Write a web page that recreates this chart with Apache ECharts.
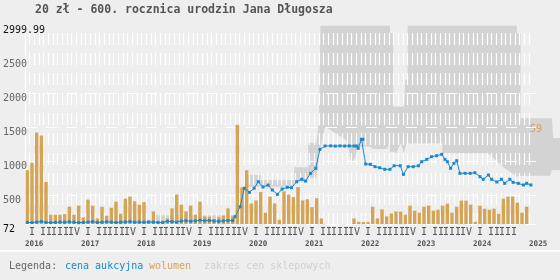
<!DOCTYPE html>
<html>
<head>
<meta charset="utf-8">
<style>
html, body { margin: 0; padding: 0; background: #eeeeee; }
#chart { width: 560px; height: 280px; }
</style>
<script src="https://cdn.jsdelivr.net/npm/echarts@6/dist/echarts.min.js"></script>
</head>
<body>
<div id="chart"></div>
<script>
const FONT = '"DejaVu Sans Mono", monospace';
const titleText = '20 zł - 600. rocznica urodzin Jana Długosza';
const firstYear = 2016;
const quarterNames = ['I', 'II', 'III', 'IV'];
const priceMin = 72;
const priceMax = 2999.99;
const priceLabels = [72, 500, 1000, 1500, 2000, 2500, 2999.99];
const priceGridLines = [72, 500, 1000, 1500, 2000, 2500];
const volumeTop = 59;

// wolumen - one value per month, from 2016-01 to 2024-12
const volume = [
  32, 36.4, 54.4, 52.6, 25, 5.5, 5.5, 5.5, 5.9, 10.3, 5.5, 10.9,
  3.9, 14.5, 10.9, 3.3, 10.3, 4.9, 9.7, 13.3, 6.1, 15.1, 16.3, 13.5,
  11.5, 13, 2, 7.5, 1, 2, 3.3, 9.3, 17.5, 11.5, 7.5, 11,
  5.5, 13.3, 4.5, 4.3, 3, 4, 5, 9.3, 4.5, 59, 21.8, 32,
  12.2, 14, 19, 6.7, 16.3, 12.2, 2.5, 19.4, 17.4, 16, 22, 14,
  14.7, 10, 15.3, 3.3, 0, 0, 0, 0, 0, 0, 3.3, 1.3,
  1.2, 1.2, 10.3, 3.3, 8.7, 4.5, 6.3, 7.5, 7.3, 5.5, 10.9, 7.9,
  6.7, 10.3, 10.9, 7.9, 8.5, 10.9, 12.1, 6.7, 10.3, 13.9, 13.9, 11.5,
  1.3, 10.9, 9.1, 8.5, 9.1, 6.1, 15.1, 16.3, 16.3, 12.7, 6.7, 10.3
];

// cena aukcyjna - position in months since 2016-01, and price
const priceMonths = [
  0.5, 1.5, 2.5, 3.5, 4.5, 5.5, 6.5, 7.5, 8.5, 9.5, 10.5, 11.5,
  12.5, 13.5, 14.5, 15.5, 16.5, 17.5, 18.5, 19.5, 20.5, 21.5, 22.5, 23.5,
  24.5, 25.5, 26.5, 27.5, 28.5, 29.5, 30.5, 31.5, 32.5, 33.5, 34.5, 35.5,
  36.5, 37.5, 38.5, 39.5, 40.5, 41.5, 42.5, 43.5, 44.5,
  45.0, 46.1, 47.0, 48.1, 49.1, 50.0, 51.0, 52.1, 53.0, 54.1, 55.1, 56.2,
  57.1, 58.2, 59.3, 60.1, 61.2, 62.3, 63.2, 64.3, 65.5, 66.5, 67.5, 68.5,
  69.5, 70.5, 71.1, 71.4, 72.1, 72.4, 73.0, 74.0, 75.0, 76.0, 77.1, 78.2,
  79.1, 80.4, 81.1, 82.1, 83.2, 84.3, 85.0, 86.1, 87.1, 88.2, 89.3, 90.0,
  90.5, 91.2, 91.9, 92.5, 93.2, 94.3, 95.4, 96.4, 97.5, 98.2, 99.3, 100.0,
  101.1, 102.1, 102.8, 103.9, 104.6, 105.7, 106.8, 107.5, 108.4
];
const priceValues = [
  95, 92, 100, 108, 96, 92, 95, 100, 98, 104, 98, 92,
  95, 100, 106, 95, 98, 104, 100, 95, 98, 102, 108, 98,
  100, 98, 102, 100, 96, 95, 112, 106, 100, 116, 120, 112,
  118, 128, 120, 124, 116, 112, 118, 124, 122,
  180, 327, 600, 540, 600, 696, 618, 647, 574, 510, 588, 613,
  608, 696, 732, 706, 820, 894, 1174, 1223, 1225, 1222, 1225, 1223,
  1225, 1223, 1223, 1189, 1322, 1322, 957, 953, 918, 903, 879, 879,
  932, 932, 805, 918, 918, 932, 991, 1026, 1065, 1080, 1100, 1026,
  991, 894, 968, 1006, 820, 820, 820, 829, 770, 732, 795, 732,
  692, 732, 672, 732, 687, 672, 648, 672, 648
];

// zakres cen sklepowych - null starts a new piece of the band
const bandMonths = [
  27, 45.2, null,
  47.5, 50.5, 50.5, 57.7, 57.7, 60.7, 60.7, 62.4, 63.0, 63.3, 64.3, 69.0, 70.0, 71.0, 71.1,
  73.9, 74.6, 77.6, 78.2, 78.2, 78.9, 78.9, 79.6, 80.5, 81.2, 81.5, 81.8, 82.0, 82.0,
  89.4, 89.4, 99.2, 102.4, 105.4, 105.4, 106.2, 106.2, 112.5, 112.9, 113.2, 114.7
];
const bandLow = [
  95, 95, null,
  622, 622, 622, 622, 696, 696, 750, 750, 1000, 1164, 1508, 1300, 950, 1100, 1213,
  1213, 1180, 1180, 1300, 1139, 1139, 1139, 1120, 1267, 1120, 1200, 1263, 1263, 1263,
  1263, 1115, 1115, 918, 770, 770, 785, 785, 785, 869, 869, 869
];
const bandHigh = [
  200, 200, null,
  795, 795, 721, 721, 910, 910, 1270, 1270, 1560, 3300, 3300, 3300, 3300, 3300, 3300,
  3300, 3300, 3300, 3300, 2890, 2890, 1803, 1803, 1803, 1803, 2200, 2200, 2200, 3300,
  3300, 3300, 3300, 3300, 3300, 2890, 2890, 1632, 1632, 1632, 1340, 1340
];

const blue = '#1a88d0';
const orange = '#d6a456';
const monthCount = volume.length;
const monthPx = 504 / monthCount;

// split the band arrays into pieces
const bandPieces = [];
let pieceStart = 0;
for (let k = 0; k <= bandMonths.length; k++) {
  if (k === bandMonths.length || bandMonths[k] === null) {
    if (k - 1 > pieceStart) bandPieces.push([pieceStart, k - 1]);
    pieceStart = k + 1;
  }
}

function renderBand(params, api) {
  const piece = bandPieces[params.dataIndex];
  const upper = [];
  const lower = [];
  for (let k = piece[0]; k <= piece[1]; k++) {
    upper.push(api.coord([bandMonths[k], bandHigh[k]]));
    lower.push(api.coord([bandMonths[k], bandLow[k]]));
  }
  const cs = params.coordSys;
  const points = echarts.graphic.clipPointsByRect(upper.concat(lower.reverse()), {
    x: cs.x, y: cs.y, width: cs.width, height: cs.height
  });
  return { type: 'polygon', shape: { points: points }, style: { fill: '#d3d3d3' } };
}

const quarterTicks = [];
const yearTicks = [];
for (let y = 0; y < monthCount / 12; y++) {
  for (let q = 0; q < 4; q++) quarterTicks.push(12 * y + 3 * q + 1.5);
}
for (let y = 0; y <= monthCount / 12; y++) yearTicks.push(12 * y);

const chart = echarts.init(document.getElementById('chart'));
const gridTop = 25.6;
const gridHeight = 198.4;

chart.setOption({
  animation: false,
  backgroundColor: '#eeeeee',
  textStyle: { fontFamily: FONT },
  title: {
    text: titleText,
    left: 35,
    top: 4,
    padding: 0,
    textStyle: { fontFamily: FONT, fontSize: 11.5, fontWeight: 'bold', color: '#555555' }
  },
  grid: [
    { left: 25, top: gridTop, width: 511, height: gridHeight },
    { left: 25, top: gridTop, width: 504, height: gridHeight },
    { left: 25, top: gridTop, width: 535, height: gridHeight }
  ],
  xAxis: [
    { gridIndex: 0, type: 'value', min: 0, max: 511 / monthPx, show: false },
    {
      gridIndex: 1, type: 'value', min: 0, max: monthCount, interval: 1, z: 1,
      axisLine: { show: false }, axisTick: { show: false },
      splitLine: { show: true, lineStyle: { color: '#ffffff', width: 1.2, type: [12, 8], dashOffset: 12.6 } },
      axisLabel: {
        customValues: quarterTicks, margin: 3, fontSize: 10, fontFamily: FONT, color: '#555555',
        formatter: (v) => quarterNames[Math.round((v - 1.5) / 3) % 4]
      }
    },
    {
      gridIndex: 1, type: 'value', min: 0, max: monthCount, position: 'bottom',
      axisLine: { show: false }, axisTick: { show: false }, splitLine: { show: false },
      axisLabel: {
        customValues: yearTicks, margin: 16, fontSize: 7.6, fontWeight: 'bold', fontFamily: FONT,
        color: '#555555', align: 'left',
        formatter: (v) => String(firstYear + Math.round(v / 12))
      }
    },
    { gridIndex: 2, type: 'value', min: 0, max: 535 / monthPx, show: false }
  ],
  yAxis: [
    {
      gridIndex: 0, type: 'value', min: priceMin, max: priceMax, z: 1,
      axisLine: { show: false },
      axisTick: { show: false, customValues: priceGridLines },
      splitLine: { show: true, showMaxLine: false, lineStyle: { color: '#ffffff', width: 1.2, type: [11, 9] } },
      axisLabel: {
        customValues: priceLabels, margin: 23, align: 'left', verticalAlign: 'top', lineHeight: 10,
        fontSize: 10, fontFamily: FONT,
        color: (v) => (Number(v) === priceMin || Number(v) === priceMax ? '#111111' : '#666666'),
        formatter: (v) => String(v)
      }
    },
    {
      gridIndex: 1, type: 'value', min: priceMin, max: priceMax, z: 1,
      axisLine: { show: true, lineStyle: { color: '#ffffff', width: 1.3 } },
      axisTick: { show: false }, axisLabel: { show: false }, splitLine: { show: false }
    },
    {
      gridIndex: 1, type: 'value', position: 'right', min: 0, max: volumeTop * 2,
      axisLine: { show: false }, axisTick: { show: false }, splitLine: { show: false },
      axisLabel: {
        customValues: [volumeTop], margin: 1, align: 'left', verticalAlign: 'top', lineHeight: 10,
        fontSize: 10, fontFamily: FONT, color: orange, formatter: (v) => String(v)
      }
    },
    { gridIndex: 2, type: 'value', min: priceMin, max: priceMax, show: false }
  ],
  series: [
    {
      name: 'zakres cen sklepowych', type: 'custom', xAxisIndex: 3, yAxisIndex: 3, z: 0,
      clip: true, renderItem: renderBand,
      data: bandPieces.map((p) => [bandMonths[p[0]], bandLow[p[0]]])
    },
    {
      name: 'wolumen', type: 'bar', xAxisIndex: 1, yAxisIndex: 2, z: 2,
      barWidth: 3.4, itemStyle: { color: orange },
      data: volume.map((v, i) => [i + 0.5, v])
    },
    {
      name: 'cena aukcyjna', type: 'line', xAxisIndex: 1, yAxisIndex: 1, z: 3,
      clip: false, symbol: 'rect', symbolSize: 3, showSymbol: true,
      lineStyle: { color: blue, width: 1 }, itemStyle: { color: blue },
      data: priceMonths.map((m, i) => [m, priceValues[i]])
    }
  ],
  graphic: [
    { type: 'rect', left: 0, top: 250, shape: { width: 560, height: 2 }, style: { fill: '#ffffff' } },
    { type: 'text', x: 9, y: 266.5, style: { text: 'Legenda:', font: '10px ' + FONT, fill: '#666666', verticalAlign: 'middle' } },
    { type: 'text', x: 65, y: 266.5, style: { text: 'cena aukcyjna', font: '10px ' + FONT, fill: blue, verticalAlign: 'middle' } },
    { type: 'text', x: 149, y: 266.5, style: { text: 'wolumen', font: '10px ' + FONT, fill: orange, verticalAlign: 'middle' } },
    { type: 'text', x: 204, y: 266.5, style: { text: 'zakres cen sklepowych', font: '10px ' + FONT, fill: '#d0d0d0', verticalAlign: 'middle' } }
  ]
});
</script>
</body>
</html>
